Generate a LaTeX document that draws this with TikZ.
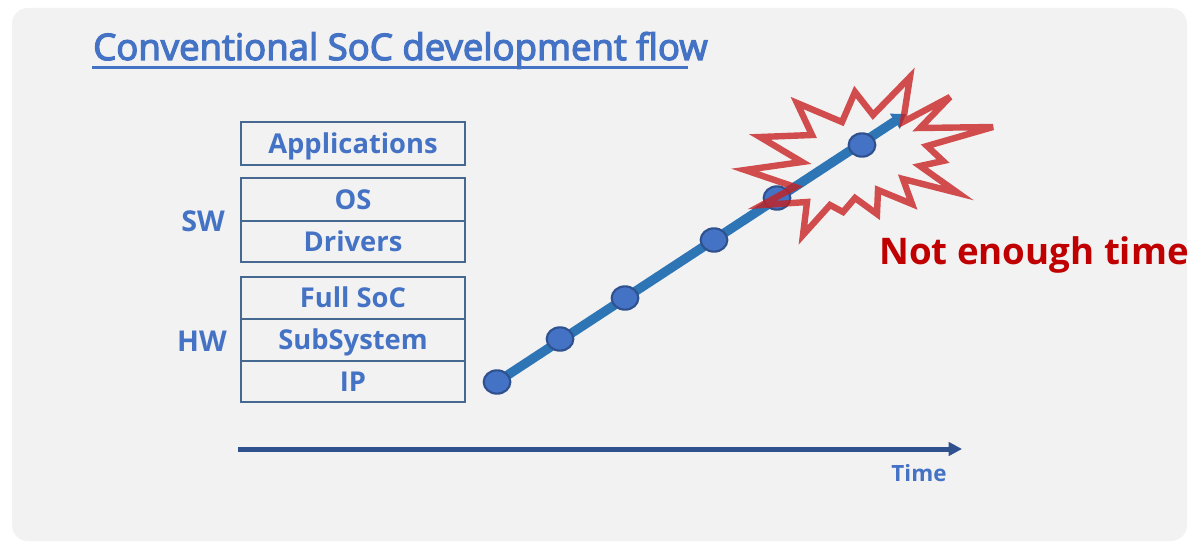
\documentclass[tikz,border=0pt]{standalone}
\usepackage{fontspec}
\setmainfont{Open Sans}
\newfontfamily\titlefont[FakeBold=3.5]{Open Sans}
\usetikzlibrary{arrows.meta,shapes.geometric}
\definecolor{bgc}{RGB}{242,242,242}
\definecolor{ttl}{RGB}{68,114,196}
\definecolor{bord}{RGB}{70,105,145}
\definecolor{linec}{RGB}{46,117,182}
\definecolor{dotc}{RGB}{68,114,196}
\definecolor{dotb}{RGB}{47,82,143}
\definecolor{axisc}{RGB}{47,82,143}
\definecolor{redc}{RGB}{200,30,30}
\definecolor{darkred}{RGB}{192,0,0}
\begin{document}
\begin{tikzpicture}[x=0.75pt,y=-0.75pt,
  layer/.style={draw=bord, line width=1.3pt, minimum width=168pt, inner sep=0pt,
    text height=14.5pt, text depth=0pt, font=\fontsize{20.5}{24}\selectfont\bfseries, text=ttl},
  grp/.style={inner sep=0pt, text height=15pt, text depth=0pt, font=\fontsize{21.5}{24}\selectfont\bfseries, text=ttl},
  dot/.style={ellipse, draw=dotb, fill=dotc, line width=1.6pt, minimum width=20pt, minimum height=17.5pt, inner sep=0pt},
  burst/.style={draw=redc, draw opacity=0.78, line width=4.8pt, miter limit=6}
]
\useasboundingbox (0,0) rectangle (1188,542);
\fill[white] (0,0) rectangle (1188,542);
\fill[bgc, rounded corners=12pt] (12,8) rectangle (1187,541);

% title
\node[anchor=base west, inner sep=0pt, font=\titlefont\fontsize{27.4}{32}\selectfont, text=ttl] (title) at (93,60) {Conventional SoC development flow};
\coordinate (ul0) at (92,68);
\coordinate (ul1) at (688,68);
\draw[ttl, line width=2.25pt] (ul0) -- (ul1);

% layers
\node[layer, minimum height=32.25pt] (app) at (353,143.5) {Applications};
\node[layer, minimum height=32.25pt] (os) at (353,199.5) {OS};
\node[layer, minimum height=30.75pt] (drv) at (353,241.5) {Drivers};
\node[layer, minimum height=31.5pt] (full) at (353,298) {Full SoC};
\node[layer, minimum height=31.5pt] (sub) at (353,340) {SubSystem};
\node[layer, minimum height=30.75pt] (ip) at (353,381.5) {IP};
\node[grp] (sw) at (203,221) {SW};
\node[grp] (hw) at (202,341) {HW};

% progress line
\coordinate (d1) at (497,382);
\coordinate (tip) at (906,114);
\draw[linec, line width=7pt, -{Triangle[length=10pt,width=13pt]}] (d1) -- (tip);
\node[dot] (p1) at (497,382) {};
\node[dot] (p2) at (560,339) {};
\node[dot] (p3) at (625,298) {};
\node[dot] (p4) at (714,240) {};
\node[dot] (p5) at (777,198) {};
\node[dot] (p6) at (862,145) {};

% burst
\draw[burst] (910,77) -- (903,122) -- (950,97) -- (920,128) -- (993,127) -- (927,146) -- (943,161) -- (920,166) -- (958,193) -- (903,179) -- (912,204) -- (878,190) -- (877,214) -- (855,198) -- (843,212) -- (830,205) -- (803,235) -- (807,202) -- (762,205) -- (795,187) -- (745,170) -- (802,162) -- (760,137) -- (812,135) -- (797,103) -- (842,122) -- (855,92) -- (873,115) -- cycle;

\node[anchor=base west, inner sep=0pt, font=\fontsize{27.5}{32}\selectfont\bfseries, text=darkred] (nt) at (879,264) {Not enough time};

% time axis
\coordinate (ax0) at (238,449);
\coordinate (ax1) at (962,449);
\draw[axisc, line width=3.75pt, -{Triangle[length=10pt,width=10pt]}] (ax0) -- (ax1);
\node[anchor=base, inner sep=0pt, font=\fontsize{16.8}{20}\selectfont\bfseries, text=ttl] (time) at (919,481) {Time};
\end{tikzpicture}
\end{document}
